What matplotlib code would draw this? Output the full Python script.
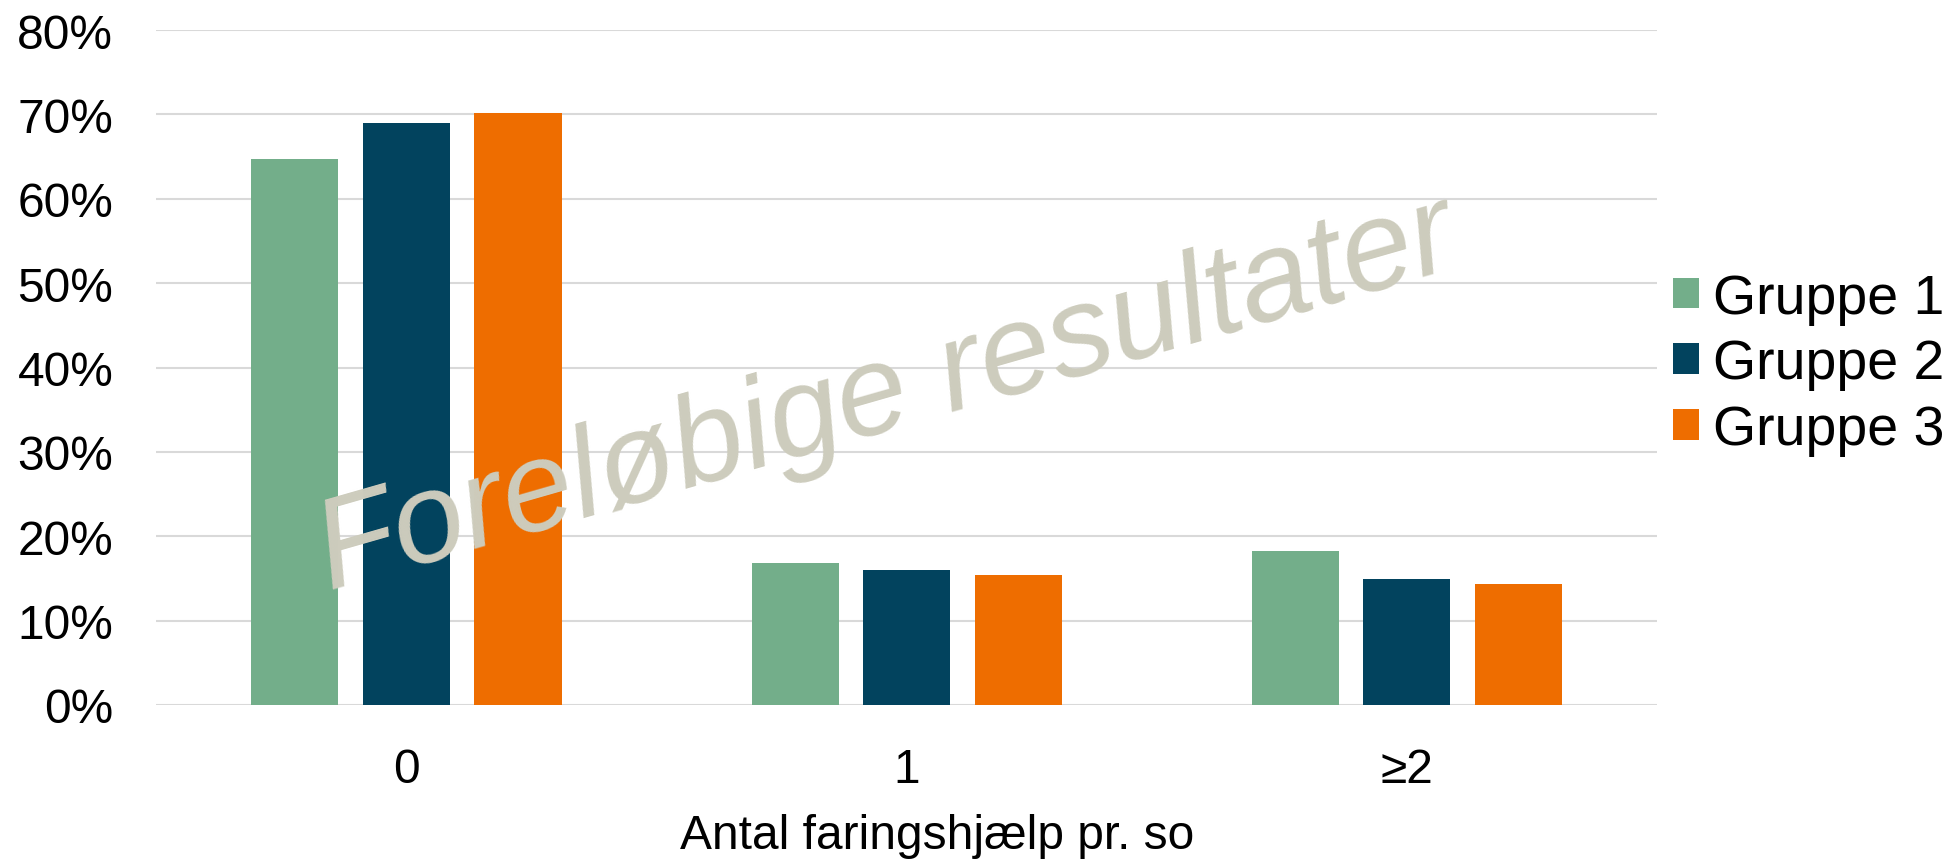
import matplotlib.pyplot as plt
import matplotlib.ticker as ticker
import numpy as np

plt.rcParams.update({
    "font.family": ["Liberation Sans", "DejaVu Sans"],
    "font.size": 34.5,
})

categories = ["0", "1", "≥2"]
series = ["Gruppe 1", "Gruppe 2", "Gruppe 3"]
gruppe1 = [0.647, 0.168, 0.183]
gruppe2 = [0.690, 0.160, 0.149]
gruppe3 = [0.702, 0.154, 0.143]
colors = ["#73AE8A", "#02435E", "#EE6D00"]

fig = plt.figure(figsize=(19.54, 8.62), dpi=100)
ax = fig.add_axes([0.080, 0.181, 0.768, 0.783])

x = np.arange(len(categories))
bar_w = 0.174
step = 0.223
for i, (vals, name) in enumerate(zip([gruppe1, gruppe2, gruppe3], series)):
    ax.bar(x + (i - 1) * step, vals, bar_w, color=colors[i], label=name, zorder=3)

ax.set_xlim(-0.5, 2.5)
ax.set_ylim(0, 0.8)
ax.set_yticks(np.arange(0, 0.81, 0.1))
ax.yaxis.set_major_formatter(ticker.FuncFormatter(lambda v, pos: f"{v*100:.0f}%"))
ax.set_xticks(x)
ax.set_xticklabels(categories)
ax.tick_params(axis="both", length=0)
ax.tick_params(axis="y", pad=31)
ax.tick_params(axis="x", pad=30)
ax.grid(axis="y", color="#D9D9D9", linewidth=1.5, zorder=0)
for s in ["top", "right", "left", "bottom"]:
    ax.spines[s].set_visible(False)

ax.set_xlabel("Antal faringshjælp pr. so")
ax.xaxis.set_label_coords(0.520, -0.194)
ax.xaxis.label.set_va("center")

ax.legend(loc="center left", bbox_to_anchor=(0.856, 0.576), bbox_transform=fig.transFigure,
          frameon=False, borderpad=0, borderaxespad=0, handlelength=0.47, handleheight=0.47,
          handletextpad=0.25, labelspacing=0.25, fontsize=40)

# watermark
fig.text(0.4585, 0.503, "Foreløbige resultater", fontsize=92, style="italic",
         color="#CDCCBD", rotation=16, rotation_mode="anchor", ha="center", va="baseline",
         zorder=10)

fig.savefig("out.png", dpi=100)
